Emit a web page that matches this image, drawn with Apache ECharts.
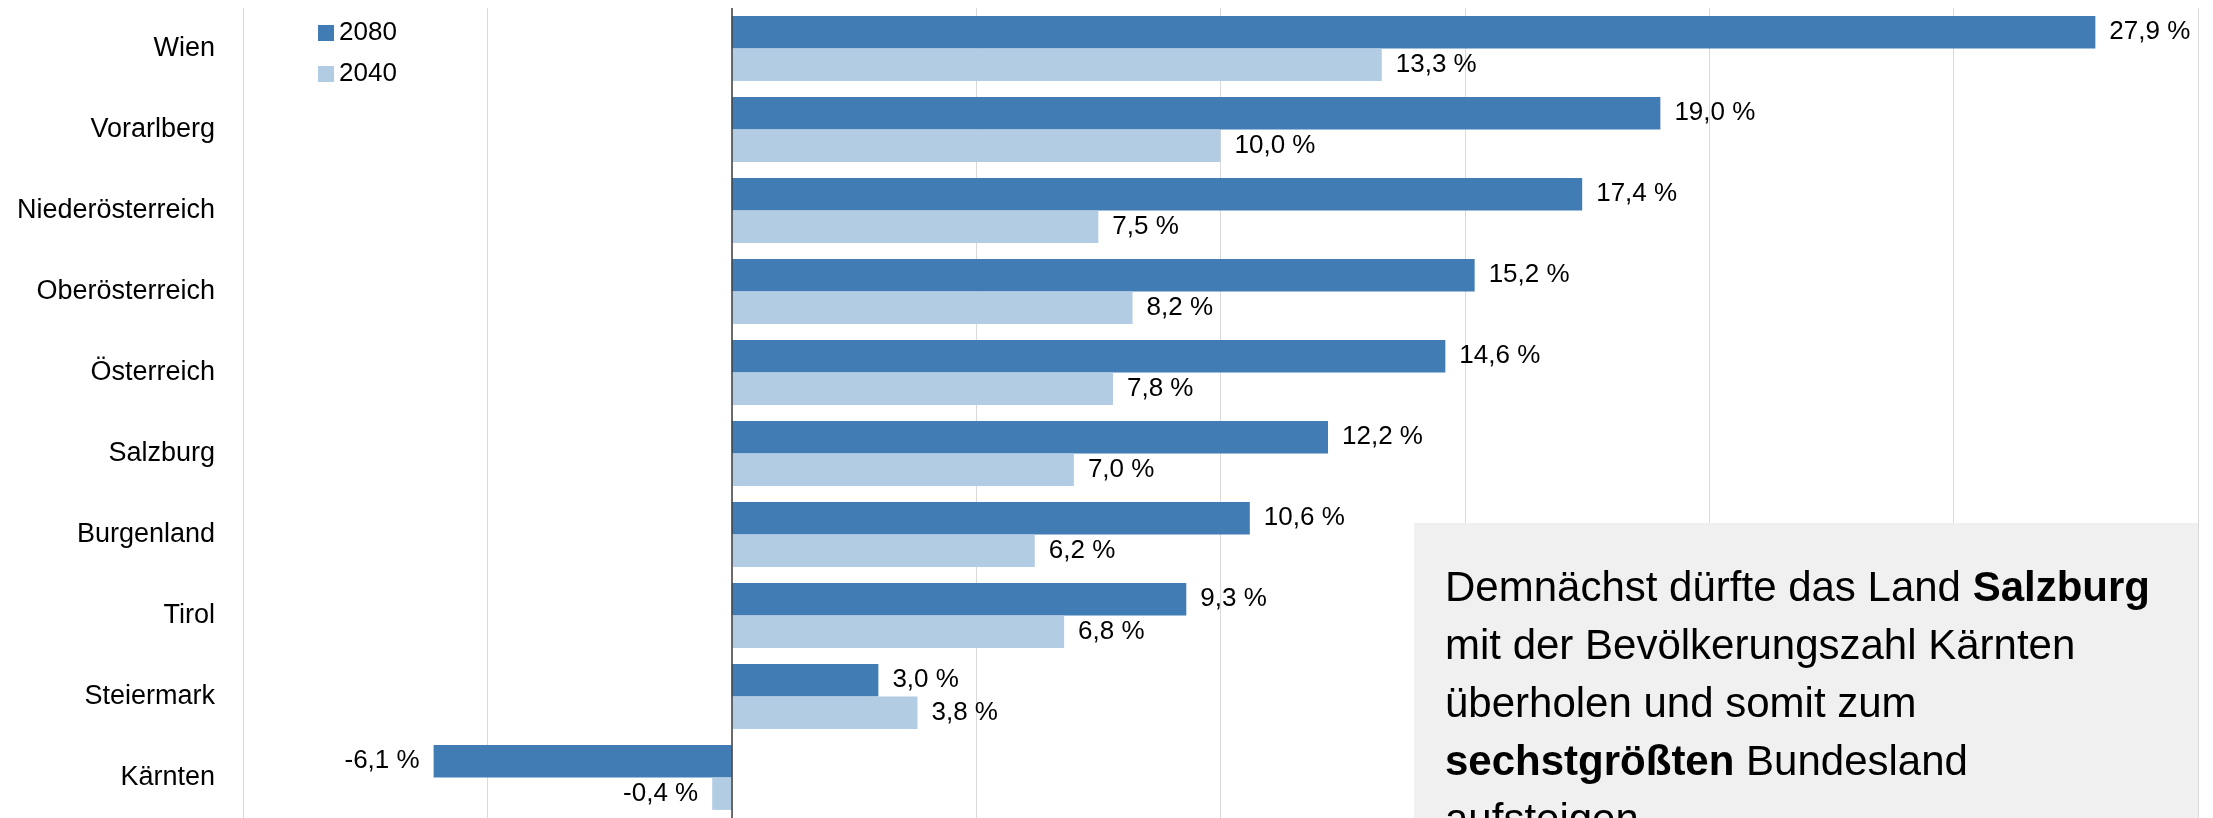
<!DOCTYPE html>
<html>
<head>
<meta charset="utf-8">
<script src="https://cdn.jsdelivr.net/npm/echarts@6/dist/echarts.min.js"></script>
<style>
  html, body { margin: 0; padding: 0; background: #fff; }
  #chart { width: 2213px; height: 818px; }
</style>
</head>
<body>
<div id="chart"></div>
<script>
const regions = ['Wien', 'Vorarlberg', 'Niederösterreich', 'Oberösterreich', 'Österreich',
  'Salzburg', 'Burgenland', 'Tirol', 'Steiermark', 'Kärnten'];
const values2080 = [27.9, 19.0, 17.4, 15.2, 14.6, 12.2, 10.6, 9.3, 3.0, -6.1];
const values2040 = [13.3, 10.0, 7.5, 8.2, 7.8, 7.0, 6.2, 6.8, 3.8, -0.4];
const axisMin = -10, axisMax = 30, axisStep = 5;

const FONT = 'Liberation Sans';

// positive values get the label on the right, negative on the left
const withLabels = (arr) => arr.map(v => ({
  value: v,
  label: { position: v < 0 ? 'left' : 'right' }
}));
const fmt = (p) => p.value.toFixed(1).replace('.', ',') + ' %';

var myChart = echarts.init(document.getElementById('chart'));
var option = {
  animation: false,
  textStyle: { fontFamily: FONT },
  grid: { left: 243, right: 15, top: 8, bottom: 0, containLabel: false },
  legend: {
    orient: 'vertical',
    left: 313,
    top: 15,
    itemWidth: 16,
    itemHeight: 16,
    itemGap: 15,
    icon: 'rect',
    textStyle: { fontSize: 26, color: '#000', fontFamily: FONT },
    data: ['2080', '2040']
  },
  xAxis: {
    type: 'value',
    min: axisMin,
    max: axisMax,
    interval: axisStep,
    axisLabel: { show: false },
    axisLine: { show: false },
    axisTick: { show: false },
    splitLine: { lineStyle: { color: '#d9d9d9', width: 1 } }
  },
  yAxis: {
    type: 'category',
    data: regions,
    inverse: true,
    axisLine: { show: false, onZero: false },
    axisTick: { show: false },
    axisLabel: { fontSize: 27, color: '#000', margin: 28, fontFamily: FONT }
  },
  series: [
    {
      name: '2080',
      type: 'bar',
      data: withLabels(values2080),
      barGap: '0%',
      barCategoryGap: '20%',
      itemStyle: { color: '#427cb4' },
      label: { show: true, distance: 14, fontSize: 26, color: '#000', fontFamily: FONT, formatter: fmt },
      markLine: {
        silent: true,
        symbol: 'none',
        label: { show: false },
        lineStyle: { color: '#404040', width: 1.5, type: 'solid' },
        data: [{ xAxis: 0 }]
      }
    },
    {
      name: '2040',
      type: 'bar',
      data: withLabels(values2040),
      barGap: '0%',
      barCategoryGap: '20%',
      itemStyle: { color: '#b2cce3' },
      label: { show: true, distance: 14, fontSize: 26, color: '#000', fontFamily: FONT, formatter: fmt }
    }
  ],
  graphic: [
    {
      type: 'rect',
      left: 1414,
      top: 523,
      shape: { width: 784, height: 320 },
      style: { fill: '#f0f0f0' },
      z: 100
    },
    {
      type: 'text',
      left: 1445,
      top: 560,
      z: 101,
      style: {
        text: 'Demnächst dürfte das Land {b|Salzburg}\nmit der Bevölkerungszahl Kärnten\nüberholen und somit zum\n{b|sechstgrößten} Bundesland\naufsteigen',
        font: '42px "Liberation Sans"',
        fill: '#000',
        lineHeight: 58,
        rich: {
          b: { fontWeight: 'bold', fontSize: 42, fontFamily: FONT, lineHeight: 58 }
        }
      }
    }
  ]
};
option && myChart.setOption(option);
</script>
</body>
</html>
